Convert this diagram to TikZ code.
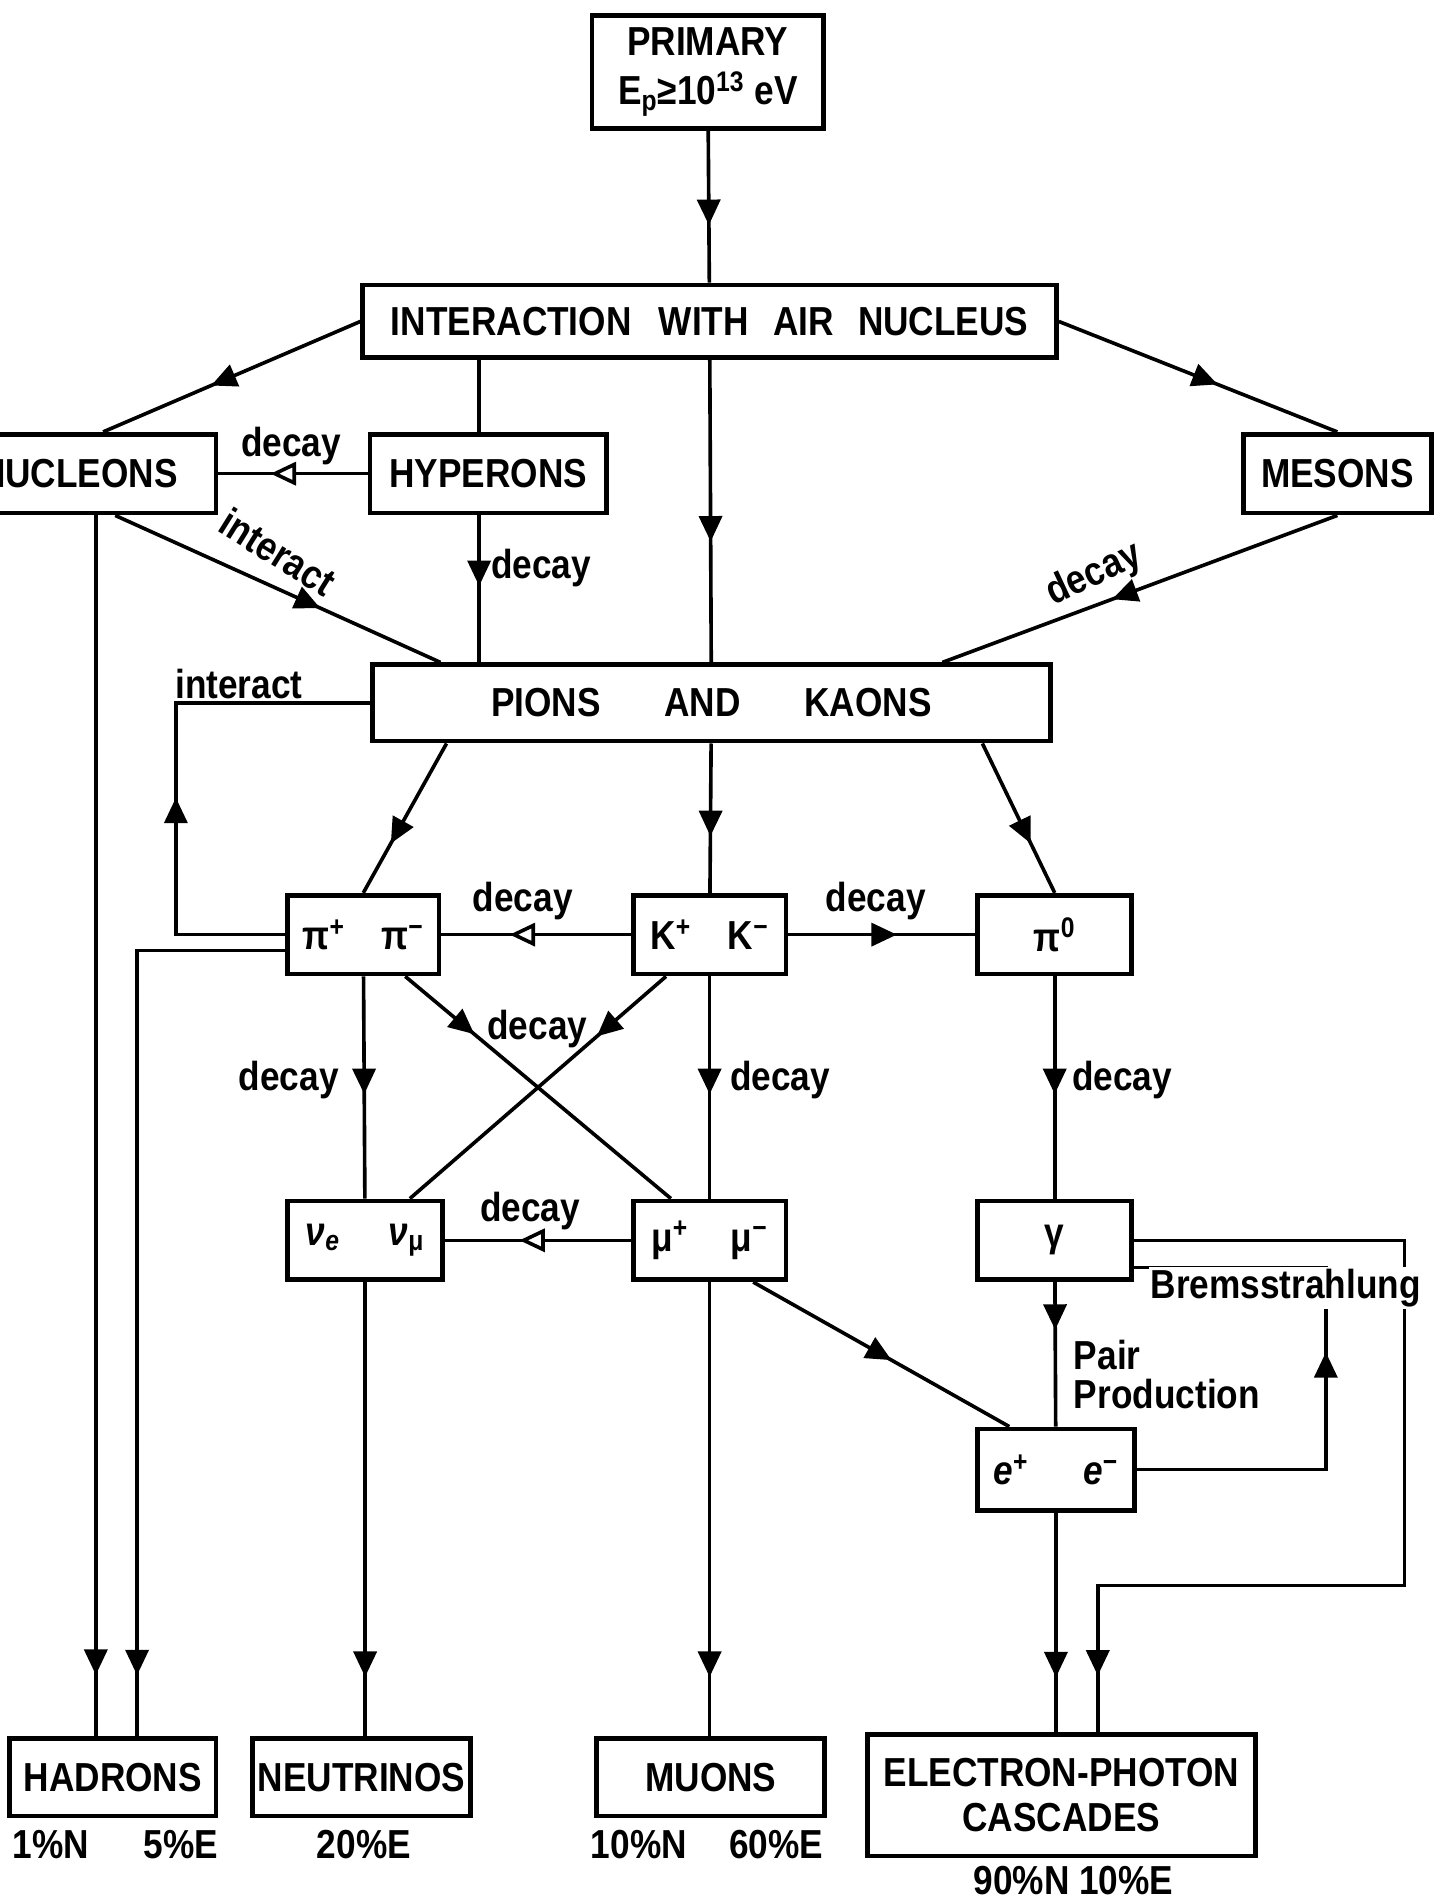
\documentclass[tikz,border=0pt]{standalone}
\usepackage{fontspec}
\setmainfont{Liberation Sans}[FakeStretch=0.87]
\usetikzlibrary{arrows.meta}
\usetikzlibrary{decorations.markings}

\begin{document}
\begin{tikzpicture}[x=0.02cm, y=-0.02cm, line width=1.7pt,
        font=\bfseries\fontsize{19}{23}\selectfont,
        box/.style={draw, line width=2.2pt, inner sep=0pt, align=center, minimum height=1.3cm},
        arr/.style={postaction={decorate}, decoration={markings, mark=at position #1 with {\arrow{Triangle[length=0.42cm, width=0.38cm]}}}},
        oarr/.style={postaction={decorate}, decoration={markings, mark=at position #1 with {\arrow{Triangle[open, fill=white, length=0.42cm, width=0.38cm]}}}}]
        \useasboundingbox (0,0) rectangle (1184,1568);
        \node[box, minimum width=3.82cm, minimum height=1.86cm] (prim) at (583.5,59.5) {PRIMARY\\E\textsubscript{p}≥10\textsuperscript{13} eV};
        \node[box, minimum width=11.44cm, minimum height=1.2cm] (inter) at (585,265) {INTERACTION\hspace{0.45cm}WITH\hspace{0.4cm}AIR\hspace{0.4cm}NUCLEUS};
        \node[box, minimum width=4.52cm] (nucl) at (65,390.5) {NUCLEONS};
        \node[box, minimum width=3.9cm] (hyp) at (402.5,390.5) {HYPERONS};
        \node[box, minimum width=3.1cm] (mes) at (1102.5,390.5) {MESONS};
        \node[box, minimum width=11.18cm, minimum height=1.26cm] (pk) at (586.5,579.5) {PIONS\hspace{1.05cm}AND\hspace{1.05cm}KAONS};
        \node[box, minimum width=2.5cm] (pic) at (299.5,770.5) {π\textsuperscript{+}\hspace{0.6cm}π\textsuperscript{−}};
        \node[box, minimum width=2.52cm] (kc) at (585,770.5) {K\textsuperscript{+}\hspace{0.6cm}K\textsuperscript{−}};
        \node[box, minimum width=2.54cm] (pio) at (869.5,770.5) {π\textsuperscript{0}};
        \node[box, minimum width=2.56cm] (nu) at (301,1022.5) {\textit{ν}\textsubscript{\textit{e}}\hspace{0.8cm}\textit{ν}\textsubscript{μ}};
        \node[box, minimum width=2.52cm] (mu) at (585,1022.5) {μ\textsuperscript{+}\hspace{0.7cm}μ\textsuperscript{−}};
        \node[box, minimum width=2.54cm] (gam) at (869.5,1022.5) {γ};
        \node[box, minimum width=2.58cm, minimum height=1.34cm] (ee) at (870.5,1211.5) {\textit{e}\textsuperscript{+}\hspace{0.9cm}\textit{e}\textsuperscript{−}};
        \node[box, minimum width=3.4cm, minimum height=1.28cm] (had) at (93,1465) {HADRONS};
        \node[box, minimum width=3.6cm, minimum height=1.28cm] (neu) at (298,1465) {NEUTRINOS};
        \node[box, minimum width=3.76cm, minimum height=1.28cm] (muo) at (586,1465) {MUONS};
        \node[box, minimum width=6.4cm, minimum height=2cm, font=\bfseries\fontsize{19}{21}\selectfont] (casc) at (875,1480) {ELECTRON-PHOTON\\CASCADES};
        \coordinate (nx) at (79,0);
        \coordinate (hx) at (395,0);
        \coordinate (lp) at (145,0);
        \coordinate (hb) at (113,0);
        \coordinate (br) at (1093,0);
        \coordinate (cx) at (905,0);
        \coordinate (cr) at (1158,1307);
        \coordinate (gb) at ([yshift=-0.45cm]gam.east);
        \draw[arr=0.62] (prim) -- (inter);
        \draw[arr=0.58] (inter.west) -- ([xshift=0.4cm]nucl.north);
        \draw[arr=0.57] (inter.east) -- (mes.north);
        \draw[oarr=0.65] (hyp) -- (nucl);
        \draw (hx |- inter.south) -- (hx |- hyp.north);
        \draw[arr=0.48] (hx |- hyp.south) -- (hx |- pk.north);
        \draw[arr=0.6] (inter) -- (pk);
        \draw[arr=0.63] ([xshift=0.6cm]nucl.south) -- ([xshift=1.16cm]pk.north west);
        \draw[arr=0.57] (mes.south) -- ([xshift=-1.82cm]pk.north east);
        \draw[arr=0.67] ([xshift=1.26cm]pk.south west) -- (pic.north);
        \draw[arr=0.62] (pk) -- (kc);
        \draw[arr=0.67] ([xshift=-1.16cm]pk.south east) -- (pio.north);
        \draw[arr=0.46] (pic.west) -| (lp |- pk.west) -- (pk.west);
        \draw[oarr=0.64] (kc) -- (pic);
        \draw[arr=0.58] (kc) -- (pio);
        \draw[arr=0.935] ([yshift=-0.26cm]pic.west) -| (hb |- had.north);
        \draw[arr=0.95] (nx |- nucl.south) -- (nx |- had.north);
        \draw[arr=0.53] (pic) -- (nu);
        \draw[arr=0.26] ([xshift=1.98cm]pic.south west) -- ([xshift=0.66cm]mu.north west);
        \draw[arr=0.27] ([xshift=0.58cm]kc.south west) -- ([xshift=-0.58cm]nu.north east);
        \draw[arr=0.53] (kc) -- (mu);
        \draw[arr=0.53] (pio) -- (gam);
        \draw[oarr=0.6] (mu) -- (nu);
        \draw[arr=0.54] ([xshift=-0.58cm]mu.south east) -- ([xshift=0.56cm]ee.north west);
        \draw[arr=0.33] (gam) -- (ee);
        \draw[arr=0.526] (ee.east) -| (br |- gb) -- (gb);
        \draw[arr=0.947] (gam.east) -| (cr) -| (cx |- casc.north);
        \draw[arr=0.75] (ee) -- (ee |- casc.north);
        \draw[arr=0.87] (nu) -- (nu |- neu.north);
        \draw[arr=0.87] (mu) -- (mu |- muo.north);
        \foreach \x/\y [count=\i] in {240/368, 446/468, 431/743, 722/743, 238/890, 443/848, 643/890, 925/890, 437/998}
            \node (dec\i) at (\x,\y) {decay};
        \node[rotate=-32] (intl) at (229,455) {interact};
        \node[rotate=25] (decm) at (902,474) {decay};
        \node (inta) at (197,564) {interact};
        \node[align=left, anchor=west, font=\bfseries\fontsize{19}{18.5}\selectfont] (pp) at (878,1133) {Pair\\Production};
        \node[fill=white, inner sep=1pt] (brl) at (1060,1062) {Bremsstrahlung};
        \node (hadp) at (95,1521) {1\%N\hspace{0.9cm}5\%E};
        \node (neup) at (300,1521) {20\%E};
        \node (muop) at (583,1521) {10\%N\hspace{0.7cm}60\%E};
        \node (cascp) at (885,1550) {90\%N 10\%E};
\end{tikzpicture}
\end{document}
